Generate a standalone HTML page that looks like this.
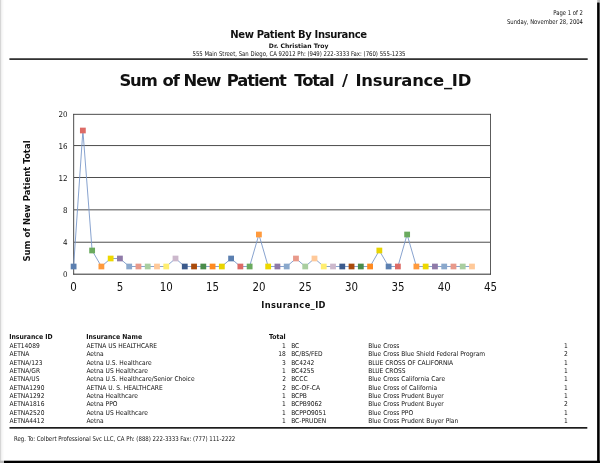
<!DOCTYPE html>
<html><head><meta charset="utf-8"><title>New Patient By Insurance</title>
<style>
html,body{margin:0;padding:0;}
body{width:600px;height:463px;position:relative;overflow:hidden;background:#fff;font-family:"DejaVu Sans Condensed", "Liberation Sans", sans-serif;color:#000;}
.x{position:absolute;white-space:nowrap;color:#111;}
.s{font-family:"DejaVu Sans Condensed", "Liberation Sans", sans-serif;font-size:6.55px;line-height:9px;}
.h1{font-family:"DejaVu Sans", "Liberation Sans", sans-serif;font-size:10.0px;line-height:13px;font-weight:bold;letter-spacing:-0.36px;}
.dr{font-family:"DejaVu Sans", "Liberation Sans", sans-serif;font-size:6.12px;line-height:8px;font-weight:bold;}
.tt{font-family:"DejaVu Sans", "Liberation Sans", sans-serif;font-size:16.4px;line-height:21px;font-weight:bold;letter-spacing:-1.1px;}
.th{font-family:"DejaVu Sans Condensed", "Liberation Sans", sans-serif;font-size:6.82px;line-height:9px;font-weight:bold;}
.t{font-family:"DejaVu Sans Condensed", "Liberation Sans", sans-serif;font-size:6.6px;line-height:9px;}
.chart{position:absolute;left:0;top:0;}
.chart text{font-family:"DejaVu Sans Condensed", "Liberation Sans", sans-serif;fill:#111;}
.yl{font-size:7.9px;}
.xl{font-size:11.4px;}
.chart text.xt{font-family:"DejaVu Sans", "Liberation Sans", sans-serif;font-size:8.3px;font-weight:bold;letter-spacing:0.37px;}
.chart text.yt{font-family:"DejaVu Sans", "Liberation Sans", sans-serif;font-size:8.52px;font-weight:bold;}
</style></head><body>
<header>
<div id="pg" class="x s" style="left:282.95px;width:300px;text-align:right;transform:scaleX(0.9);transform-origin:100% 50%;top:8.51px">Page 1 of 2</div>
<div id="dt" class="x s" style="left:283.09px;width:300px;text-align:right;transform:scaleX(0.9);transform-origin:100% 50%;top:18.31px">Sunday, November 28, 2004</div>
<div id="h1" class="x h1" style="left:-1.52px;width:600px;text-align:center;top:28.40px">New Patient By Insurance</div>
<div id="dr" class="x dr" style="left:-1.39px;width:600px;text-align:center;top:41.86px">Dr. Christian Troy</div>
<div id="ad" class="x s" style="left:-1.48px;width:600px;text-align:center;transform:scaleX(0.91);transform-origin:50% 50%;top:50.21px">555 Main Street, San Diego, CA 92012 Ph: (949) 222-3333 Fax: (760) 555-1235</div>
</header>
<section class="chartbox">
<div id="tt" class="x tt" style="left:119.40px;top:70.16px">Sum <span style="margin-left:1.25px">of</span> <span style="margin-left:.25px">New</span> <span style="margin-left:1.95px">Patient</span> <span style="margin-left:3.85px">Total</span> <span style="margin-left:3.95px">/</span> <span style="margin-left:3.8px;letter-spacing:-.26px">Insurance_ID</span></div>
<svg class="chart" width="600" height="463" viewBox="0 0 600 463">
<rect x="0" y="0" width="0.85" height="463" fill="#cbcbcb"/>
<rect x="0.85" y="0" width="1.15" height="463" fill="#f1f1f1"/>
<rect x="2" y="0" width="1" height="463" fill="#f8f8f8"/>
<rect x="3" y="0" width="1" height="463" fill="#fcfcfc"/>
<rect x="597.2" y="0" width="2.8" height="2.6" fill="#bdbdbd"/>
<rect x="597.2" y="2.6" width="2.8" height="461" fill="#777"/>
<rect x="597.2" y="2.6" width="2.1" height="461" fill="#000"/>
<rect x="0" y="460.7" width="4" height="2.3" fill="#bbb"/>
<rect x="4" y="460.7" width="596" height="2.3" fill="#000"/>
<rect x="74" y="241.75" width="416" height="0.9" fill="#3a3a3a"/>
<rect x="74" y="209.40" width="416" height="0.9" fill="#3a3a3a"/>
<rect x="74" y="177.05" width="416" height="0.9" fill="#3a3a3a"/>
<rect x="74" y="145.15" width="416" height="0.9" fill="#3a3a3a"/>
<rect x="73.25" y="113.9" width="0.9" height="160.7" fill="#3a3a3a"/>
<rect x="490.05" y="113.9" width="0.9" height="160.7" fill="#4a4a4a"/>
<rect x="73.3" y="113.85" width="417.6" height="0.9" fill="#3a3a3a"/>
<rect x="73.3" y="273.68" width="417.6" height="1" fill="#2e2e2e"/>
<rect x="9.4" y="58.3" width="578.3" height="1.6" fill="#1c1c1c"/>
<rect x="9.5" y="427" width="577.8" height="1.7" fill="#1c1c1c"/>
<polyline points="73.6,266.5 82.9,130.5 92.1,250.5 101.4,266.5 110.7,258.5 119.9,258.5 129.2,266.5 138.5,266.5 147.7,266.5 157.0,266.5 166.2,266.5 175.5,258.5 184.8,266.5 194.0,266.5 203.3,266.5 212.6,266.5 221.8,266.5 231.1,258.5 240.4,266.5 249.6,266.5 258.9,234.5 268.2,266.5 277.4,266.5 286.7,266.5 296.0,258.5 305.2,266.5 314.5,258.5 323.8,266.5 333.0,266.5 342.3,266.5 351.6,266.5 360.8,266.5 370.1,266.5 379.3,250.5 388.6,266.5 397.9,266.5 407.1,234.5 416.4,266.5 425.7,266.5 434.9,266.5 444.2,266.5 453.5,266.5 462.7,266.5 472.0,266.5" fill="none" stroke="#7b98ca" stroke-width="0.9"/>
<rect x="70.70" y="263.65" width="5.8" height="5.7" fill="#5b7fb0"/>
<rect x="79.96" y="127.65" width="5.8" height="5.7" fill="#dd6b66"/>
<rect x="89.23" y="247.65" width="5.8" height="5.7" fill="#6aaa5e"/>
<rect x="98.49" y="263.65" width="5.8" height="5.7" fill="#ff9a3c"/>
<rect x="107.76" y="255.65" width="5.8" height="5.7" fill="#eed800"/>
<rect x="117.02" y="255.65" width="5.8" height="5.7" fill="#8f7aa8"/>
<rect x="126.29" y="263.65" width="5.8" height="5.7" fill="#8aa8cc"/>
<rect x="135.55" y="263.65" width="5.8" height="5.7" fill="#e8998a"/>
<rect x="144.82" y="263.65" width="5.8" height="5.7" fill="#a9cea0"/>
<rect x="154.09" y="263.65" width="5.8" height="5.7" fill="#ffc999"/>
<rect x="163.35" y="263.65" width="5.8" height="5.7" fill="#ffee70"/>
<rect x="172.61" y="255.65" width="5.8" height="5.7" fill="#ccb8cc"/>
<rect x="181.88" y="263.65" width="5.8" height="5.7" fill="#3b5a8c"/>
<rect x="191.15" y="263.65" width="5.8" height="5.7" fill="#aa4a0a"/>
<rect x="200.41" y="263.65" width="5.8" height="5.7" fill="#4a8c4a"/>
<rect x="209.68" y="263.65" width="5.8" height="5.7" fill="#ff8a20"/>
<rect x="218.94" y="263.65" width="5.8" height="5.7" fill="#e8d400"/>
<rect x="228.20" y="255.65" width="5.8" height="5.7" fill="#5b7fb0"/>
<rect x="237.47" y="263.65" width="5.8" height="5.7" fill="#dd6b66"/>
<rect x="246.74" y="263.65" width="5.8" height="5.7" fill="#6aaa5e"/>
<rect x="256.00" y="231.65" width="5.8" height="5.7" fill="#ff9a3c"/>
<rect x="265.26" y="263.65" width="5.8" height="5.7" fill="#eed800"/>
<rect x="274.53" y="263.65" width="5.8" height="5.7" fill="#8f7aa8"/>
<rect x="283.80" y="263.65" width="5.8" height="5.7" fill="#8aa8cc"/>
<rect x="293.06" y="255.65" width="5.8" height="5.7" fill="#e8998a"/>
<rect x="302.33" y="263.65" width="5.8" height="5.7" fill="#a9cea0"/>
<rect x="311.59" y="255.65" width="5.8" height="5.7" fill="#ffc999"/>
<rect x="320.86" y="263.65" width="5.8" height="5.7" fill="#ffee70"/>
<rect x="330.12" y="263.65" width="5.8" height="5.7" fill="#ccb8cc"/>
<rect x="339.38" y="263.65" width="5.8" height="5.7" fill="#3b5a8c"/>
<rect x="348.65" y="263.65" width="5.8" height="5.7" fill="#aa4a0a"/>
<rect x="357.92" y="263.65" width="5.8" height="5.7" fill="#4a8c4a"/>
<rect x="367.18" y="263.65" width="5.8" height="5.7" fill="#ff8a20"/>
<rect x="376.45" y="247.65" width="5.8" height="5.7" fill="#e8d400"/>
<rect x="385.71" y="263.65" width="5.8" height="5.7" fill="#5b7fb0"/>
<rect x="394.98" y="263.65" width="5.8" height="5.7" fill="#dd6b66"/>
<rect x="404.24" y="231.65" width="5.8" height="5.7" fill="#6aaa5e"/>
<rect x="413.50" y="263.65" width="5.8" height="5.7" fill="#ff9a3c"/>
<rect x="422.77" y="263.65" width="5.8" height="5.7" fill="#eed800"/>
<rect x="432.04" y="263.65" width="5.8" height="5.7" fill="#8f7aa8"/>
<rect x="441.30" y="263.65" width="5.8" height="5.7" fill="#8aa8cc"/>
<rect x="450.57" y="263.65" width="5.8" height="5.7" fill="#e8998a"/>
<rect x="459.83" y="263.65" width="5.8" height="5.7" fill="#a9cea0"/>
<rect x="469.10" y="263.65" width="5.8" height="5.7" fill="#ffc999"/>
<text x="67.6" y="277.3" text-anchor="end" class="yl">0</text>
<text x="67.6" y="245.3" text-anchor="end" class="yl">4</text>
<text x="67.6" y="213.3" text-anchor="end" class="yl">8</text>
<text x="67.6" y="181.3" text-anchor="end" class="yl">12</text>
<text x="67.6" y="149.3" text-anchor="end" class="yl">16</text>
<text x="67.6" y="117.3" text-anchor="end" class="yl">20</text>
<text x="73.6" y="291.3" text-anchor="middle" class="xl">0</text>
<text x="119.9" y="291.3" text-anchor="middle" class="xl">5</text>
<text x="166.2" y="291.3" text-anchor="middle" class="xl">10</text>
<text x="212.6" y="291.3" text-anchor="middle" class="xl">15</text>
<text x="258.9" y="291.3" text-anchor="middle" class="xl">20</text>
<text x="305.2" y="291.3" text-anchor="middle" class="xl">25</text>
<text x="351.6" y="291.3" text-anchor="middle" class="xl">30</text>
<text x="397.9" y="291.3" text-anchor="middle" class="xl">35</text>
<text x="444.2" y="291.3" text-anchor="middle" class="xl">40</text>
<text x="490.5" y="291.3" text-anchor="middle" class="xl">45</text>
<text x="293.6" y="308.2" text-anchor="middle" class="xt">Insurance_ID</text>
<text transform="translate(30.2,201) rotate(-90)" text-anchor="middle" class="yt">Sum of New Patient Total</text>
</svg>
</section>
<section class="grid">
<div class="row head"><div id="th1" class="x th" style="left:9.20px;top:333.31px">Insurance ID</div><div id="th2" class="x th" style="left:86.15px;top:333.31px">Insurance Name</div><div id="th3" class="x th" style="left:-14.30px;width:300px;text-align:right;top:333.31px">Total</div></div>
<div class="row"><div id="l0a" class="x t" style="left:9.40px;top:342.19px">AET14089</div><div id="l0b" class="x t" style="left:86.40px;top:342.19px">AETNA US HEALTHCARE</div><div id="l0c" class="x t" style="left:-14.30px;width:300px;text-align:right;top:342.19px">1</div><div id="r0a" class="x t" style="left:291.15px;top:342.19px">BC</div><div id="r0b" class="x t" style="left:368.15px;top:342.19px">Blue Cross</div><div id="r0c" class="x t" style="left:267.85px;width:300px;text-align:right;top:342.19px">1</div></div>
<div class="row"><div id="l1a" class="x t" style="left:9.40px;top:349.52px">AETNA</div><div id="l1b" class="x t" style="left:86.40px;top:349.52px">Aetna</div><div id="l1c" class="x t" style="left:-14.30px;width:300px;text-align:right;top:349.52px">18</div><div id="r1a" class="x t" style="left:291.15px;top:349.52px">BC/BS/FED</div><div id="r1b" class="x t" style="left:368.15px;top:349.52px">Blue Cross Blue Shield Federal Program</div><div id="r1c" class="x t" style="left:267.85px;width:300px;text-align:right;top:349.52px">2</div></div>
<div class="row"><div id="l2a" class="x t" style="left:9.40px;top:358.86px">AETNA/123</div><div id="l2b" class="x t" style="left:86.40px;top:358.86px">Aetna U.S. Healthcare</div><div id="l2c" class="x t" style="left:-14.30px;width:300px;text-align:right;top:358.86px">3</div><div id="r2a" class="x t" style="left:291.15px;top:358.86px">BC4242</div><div id="r2b" class="x t" style="left:368.15px;top:358.86px">BLUE CROSS OF CALIFORNIA</div><div id="r2c" class="x t" style="left:267.85px;width:300px;text-align:right;top:358.86px">1</div></div>
<div class="row"><div id="l3a" class="x t" style="left:9.40px;top:367.19px">AETNA/GR</div><div id="l3b" class="x t" style="left:86.40px;top:367.19px">Aetna US Healthcare</div><div id="l3c" class="x t" style="left:-14.30px;width:300px;text-align:right;top:367.19px">1</div><div id="r3a" class="x t" style="left:291.15px;top:367.19px">BC4255</div><div id="r3b" class="x t" style="left:368.15px;top:367.19px">BLUE CROSS</div><div id="r3c" class="x t" style="left:267.85px;width:300px;text-align:right;top:367.19px">1</div></div>
<div class="row"><div id="l4a" class="x t" style="left:9.40px;top:374.52px">AETNA/US</div><div id="l4b" class="x t" style="left:86.40px;top:374.52px">Aetna U.S. Healthcare/Senior Choice</div><div id="l4c" class="x t" style="left:-14.05px;width:300px;text-align:right;top:374.52px">2</div><div id="r4a" class="x t" style="left:291.15px;top:374.52px">BCCC</div><div id="r4b" class="x t" style="left:368.15px;top:374.52px">Blue Cross California Care</div><div id="r4c" class="x t" style="left:267.85px;width:300px;text-align:right;top:374.52px">1</div></div>
<div class="row"><div id="l5a" class="x t" style="left:9.40px;top:383.86px">AETNA1290</div><div id="l5b" class="x t" style="left:86.40px;top:383.86px">AETNA U. S. HEALTHCARE</div><div id="l5c" class="x t" style="left:-14.05px;width:300px;text-align:right;top:383.86px">2</div><div id="r5a" class="x t" style="left:291.15px;top:383.86px">BC-OF-CA</div><div id="r5b" class="x t" style="left:368.15px;top:383.86px">Blue Cross of California</div><div id="r5c" class="x t" style="left:267.85px;width:300px;text-align:right;top:383.86px">1</div></div>
<div class="row"><div id="l6a" class="x t" style="left:9.40px;top:392.19px">AETNA1292</div><div id="l6b" class="x t" style="left:86.40px;top:392.19px">Aetna Healthcare</div><div id="l6c" class="x t" style="left:-14.30px;width:300px;text-align:right;top:392.19px">1</div><div id="r6a" class="x t" style="left:291.15px;top:392.19px">BCPB</div><div id="r6b" class="x t" style="left:368.15px;top:392.19px">Blue Cross Prudent Buyer</div><div id="r6c" class="x t" style="left:267.85px;width:300px;text-align:right;top:392.19px">1</div></div>
<div class="row"><div id="l7a" class="x t" style="left:9.40px;top:399.52px">AETNA1816</div><div id="l7b" class="x t" style="left:86.40px;top:399.52px">Aetna PPO</div><div id="l7c" class="x t" style="left:-14.30px;width:300px;text-align:right;top:399.52px">1</div><div id="r7a" class="x t" style="left:291.15px;top:399.52px">BCPB9062</div><div id="r7b" class="x t" style="left:368.15px;top:399.52px">Blue Cross Prudent Buyer</div><div id="r7c" class="x t" style="left:267.85px;width:300px;text-align:right;top:399.52px">2</div></div>
<div class="row"><div id="l8a" class="x t" style="left:9.40px;top:408.86px">AETNA2520</div><div id="l8b" class="x t" style="left:86.40px;top:408.86px">Aetna US Healthcare</div><div id="l8c" class="x t" style="left:-14.30px;width:300px;text-align:right;top:408.86px">1</div><div id="r8a" class="x t" style="left:291.15px;top:408.86px">BCPPO9051</div><div id="r8b" class="x t" style="left:368.15px;top:408.86px">Blue Cross PPO</div><div id="r8c" class="x t" style="left:267.85px;width:300px;text-align:right;top:408.86px">1</div></div>
<div class="row"><div id="l9a" class="x t" style="left:9.40px;top:417.19px">AETNA4412</div><div id="l9b" class="x t" style="left:86.40px;top:417.19px">Aetna</div><div id="l9c" class="x t" style="left:-14.30px;width:300px;text-align:right;top:417.19px">1</div><div id="r9a" class="x t" style="left:291.15px;top:417.19px">BC-PRUDEN</div><div id="r9b" class="x t" style="left:368.15px;top:417.19px">Blue Cross Prudent Buyer Plan</div><div id="r9c" class="x t" style="left:267.85px;width:300px;text-align:right;top:417.19px">1</div></div>
</section>
<footer>
<div id="ft" class="x s" style="left:14.05px;transform:scaleX(0.918);transform-origin:0 50%;top:434.61px">Reg. To: Colbert Professional Svc LLC, CA Ph: (888) 222-3333 Fax: (777) 111-2222</div>
</footer>
</body></html>
